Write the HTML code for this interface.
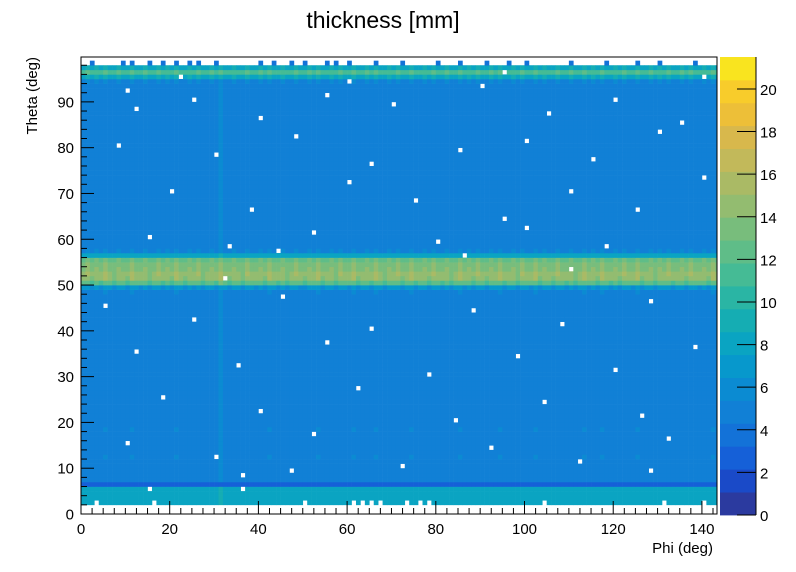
<!DOCTYPE html>
<html><head><meta charset="utf-8"><style>
html,body{margin:0;padding:0;background:#fff;width:796px;height:572px;overflow:hidden}
svg{display:block;font-family:"Liberation Sans",Arial,sans-serif}
</style></head><body>
<svg id="chart" width="796" height="572" viewBox="0 0 796 572">
<defs><clipPath id="pc"><rect x="81" y="57" width="636" height="457"/></clipPath></defs>
<text x="383" y="28" font-size="23" text-anchor="middle">thickness [mm]</text>
<g id="cells" clip-path="url(#pc)"></g>
<rect x="81" y="57" width="636" height="457" fill="none" stroke="#000" stroke-width="1"/>
<g id="axes"></g>
<g id="cbar"></g>
<text x="713" y="553" font-size="15" text-anchor="end">Phi (deg)</text>
<text transform="translate(37,57) rotate(-90)" font-size="15" text-anchor="end">Theta (deg)</text>
</svg>
<script>
// ---- data ----
const rowValues = [null,null,8.0,8.0,8.0,8.0,2.8,5.0,5.0,5.0,
5.0,5.0,5.1,5.0,5.0,5.0,5.0,5.0,5.1,5.0,
5.0,5.0,5.0,5.0,5.0,5.0,5.0,5.0,5.0,5.0,
5.0,5.0,5.0,5.0,5.0,5.0,5.0,5.0,5.0,5.0,
5.0,5.0,5.0,5.0,5.0,5.0,5.0,5.0,5.1,6.5,
12.0,14.3,14.5,13.8,13.5,12.8,8.0,5.3,5.0,5.0,
5.0,5.0,5.0,5.0,5.0,5.0,5.0,5.0,5.0,5.0,
5.0,5.0,5.0,5.0,5.0,5.0,5.0,5.0,5.0,5.0,
5.0,5.0,5.0,5.0,5.0,5.0,5.0,5.0,5.0,5.0,
5.0,5.0,5.0,5.0,5.3,8.5,11.5,8.6,null,null];
const colFactors = [1.0,1.05,0.97,1.02,0.98,1.06,1.0,0.96,1.03,1.0,0.97,1.07,1.0,0.99,1.03,0.96,1.0,1.05,0.98,1.02,
0.97,1.06,1.0,0.97,1.02,0.99,1.05,0.96,1.0,1.03,0.98,1.08,1.0,0.97,1.02,1.0,0.96,1.04,1.0,0.99,
1.03,0.97,1.06,1.0,0.98,1.02,0.96,1.0,1.05,0.99,0.97,1.03,1.0,1.07,0.97,1.0,1.02,0.96,1.05,1.0,
0.99,1.06,0.97,1.0,1.03,0.98,1.06,1.0,0.96,1.02,1.0,1.04,0.97,1.0,1.07,0.98,1.0,1.02,0.97,1.05,
1.0,0.98,1.03,0.96,1.0,1.06,0.99,1.02,0.97,1.05,1.0,0.97,1.03,1.0,1.07,0.98,1.0,1.02,0.96,1.04,
1.0,0.99,1.06,0.97,1.02,1.0,0.97,1.05,1.0,0.98,1.03,0.96,1.0,1.06,0.99,1.02,0.97,1.07,1.0,0.98,
1.02,0.97,1.05,1.0,0.99,1.06,0.97,1.0,1.03,0.96,1.02,1.0,1.05,0.98,1.0,1.03,0.97,1.04,1.0,0.99,
1.02,0.97,1.06,1.0];
const emptyCells = [[3,2],[16,2],[50,2],[61,2],[63,2],[65,2],[67,2],[73,2],[76,2],[78,2],[104,2],[131,2],[140,2],[15,5],[36,5],
[10,92],[12,88],[25,90],[40,86],[55,91],[70,89],[90,93],[105,87],[120,90],[135,85],[8,80],[30,78],[48,82],[65,76],[85,79],[100,81],[115,77],[130,83],
[20,70],[38,66],[60,72],[75,68],[95,64],[110,70],[125,66],[140,73],[15,60],[33,58],[52,61],[80,59],[100,62],[118,58],
[5,45],[25,42],[45,47],[65,40],[88,44],[108,41],[128,46],[12,35],[35,32],[55,37],[78,30],[98,34],[120,31],[138,36],
[18,25],[40,22],[62,27],[84,20],[104,24],[126,21],[10,15],[30,12],[52,17],[72,10],[92,14],[112,11],[132,16],[36,8],[47,9],[128,9],
[22,95],[60,94],[95,96],[140,95],[44,57],[86,56],[32,51],[110,53]];
const sparseRowTheta = 98;
const sparseRowCols = [2,9,11,15,18,21,24,26,30,40,43,47,50,55,57,60,66,72,80,85,91,96,100,110,118,125,130,138];
const sparseRowValue = 3.5;
const xTicks = [0,20,40,60,80,100,120,140];
const yTicks = [0,10,20,30,40,50,60,70,80,90];
const zTicks = [0,2,4,6,8,10,12,14,16,18,20];
const palette = ["#2b3a9f","#1a4ac8","#1560d8","#1372d8","#1180d6","#0b8bd2","#0798cc","#0aa4c2","#15adb3","#2ab5a4",
"#45bb95","#5fbd88","#78bd7c","#93bc70","#aaba65","#c2b95a","#d8b84c","#edbf38","#f8cc2b","#f9e41f"];
// ---- scales ----
const X0=81,X1=717,Y0=514,Y1=57,XMAX=143.4,YMAX=99.8,ZMAX=21.5;
const sx=v=>X0+v*(X1-X0)/XMAX;
const sy=v=>Y0-v*(Y0-Y1)/YMAX;
const CB0=720,CB1=756;
const sz=v=>515-v*(515-57)/ZMAX;
const colorOf=v=>palette[Math.max(0,Math.min(palette.length-1,Math.floor(v/ZMAX*palette.length)))];
const NS="http://www.w3.org/2000/svg";
function mk(tag,attrs,parent){const e=document.createElementNS(NS,tag);for(const k in attrs)e.setAttribute(k,attrs[k]);parent.appendChild(e);return e;}
const cells=document.getElementById('cells');
const emptySet=new Set(emptyCells.map(p=>p[0]+','+p[1]));
function cell(i,j,v){
  const r=mk('rect',{x:sx(i).toFixed(2),y:sy(j+1).toFixed(2),width:(sx(i+1)-sx(i)+0.3).toFixed(2),height:(sy(j)-sy(j+1)+0.3).toFixed(2),fill:colorOf(v)},cells);
  
  
}
for(let j=0;j<rowValues.length;j++){
  if(rowValues[j]===null)continue;
  for(let i=0;i<colFactors.length;i++){
    if(emptySet.has(i+','+j))continue;
    cell(i,j,rowValues[j]*colFactors[i]);
  }
}
sparseRowCols.forEach(i=>cell(i,sparseRowTheta,sparseRowValue*colFactors[i]));
// ---- axes ----
const axes=document.getElementById('axes');


for(let v=0;v<=XMAX;v+=2.5){
  const major=Math.abs(v%20)<1e-6;
  const t=mk('line',{x1:sx(v),x2:sx(v),y1:Y0,y2:Y0-(major?13:6),stroke:'#000','stroke-width':1},axes);
  
  
}
xTicks.forEach(v=>{const t=mk('text',{x:sx(v),y:534,'font-size':15,'text-anchor':'middle'},axes);t.textContent=v;
  
  });
for(let v=0;v<=YMAX;v+=2){
  const major=v%10===0;
  const t=mk('line',{x1:X0,x2:X0+(major?13:6),y1:sy(v),y2:sy(v),stroke:'#000','stroke-width':1},axes);
  
  
}
yTicks.forEach(v=>{const t=mk('text',{x:74,y:sy(v)+5.5,'font-size':15,'text-anchor':'end'},axes);t.textContent=v;
  
  });
// ---- color bar ----
const cbar=document.getElementById('cbar');
palette.forEach((c,k)=>{
  const lo=k*ZMAX/palette.length,hi=(k+1)*ZMAX/palette.length;
  const r=mk('rect',{x:CB0,y:sz(hi),width:CB1-CB0,height:sz(lo)-sz(hi)+0.4,fill:c},cbar);
  
  
});
mk('line',{x1:CB1,x2:CB1,y1:57,y2:515,stroke:'#000'},cbar);
zTicks.forEach(v=>{
  const t=mk('line',{x1:CB1-19,x2:CB1,y1:sz(v),y2:sz(v),stroke:'#000'},cbar);
  
  
  const l=mk('text',{x:760,y:sz(v)+6,'font-size':15},cbar);l.textContent=v;
  
  
});
</script>
</body></html>
